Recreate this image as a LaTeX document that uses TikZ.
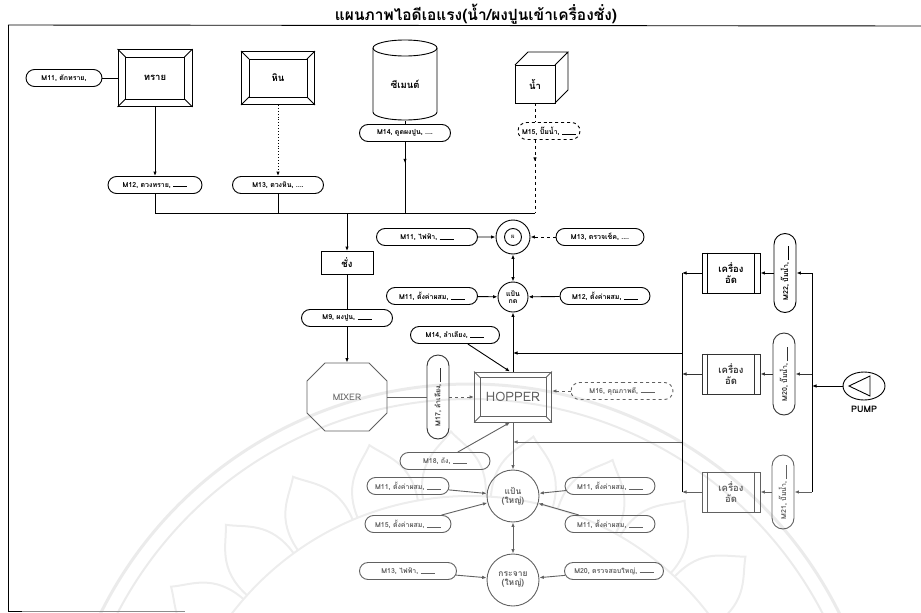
\documentclass[tikz,border=0pt]{standalone}
\usepackage{fontspec}
\newfontfamily\thai[Script=Thai]{Loma}
\usetikzlibrary{arrows.meta,shapes.misc,shapes.geometric,calc,decorations.markings}

\newcommand\lblfont{\thai\bfseries\fontsize{7}{8}\selectfont}
\newcommand\boxfont{\thai\bfseries\fontsize{9.5}{11}\selectfont}
\newcommand\blank{\rule[0pt]{14pt}{0.6pt}}
% inner frame and corner bevels of a framed box
\newcommand\bevelbox[3]{%
  \draw[#3] ($(#1.north west)+(#2,#2)$) rectangle ($(#1.south east)-(#2,#2)$);
  \draw[#3] (#1.north west) -- ++(#2,#2) (#1.north east) -- ++(-#2,#2)
            (#1.south west) -- ++(#2,-#2) (#1.south east) -- ++(-#2,-#2);}

\begin{document}
\begin{tikzpicture}[x=1pt,y=-1pt,line width=0.9pt,
  every node/.style={inner sep=1pt},
  pill/.style={draw,rounded rectangle,minimum height=17pt,minimum width=#1,font=\lblfont,inner xsep=3pt},
  pill/.default=90pt,
  vpill/.style={pill=#1,minimum height=22pt,rotate=90},
  tipA/.tip={Latex[length=4.5pt,width=3.5pt]},
  conn/.style={-tipA},
  both/.style={tipA-tipA},
  midarrow/.style={postaction={decorate},decoration={markings,mark=at position #1 with {\arrow{tipA}}}},
  bevel/.style={draw,rectangle,font=\boxfont},
  press/.style={draw,rectangle,minimum width=58pt,minimum height=40pt,font=\boxfont,align=center},
  disc/.style={draw,circle,align=center,font=\thai\bfseries\fontsize{7}{7.5}\selectfont,inner sep=0pt},
  fade/.style={draw=black!62,text=black!62},
  fadel/.style={black!62},
]
\useasboundingbox (0,0) rectangle (921,613);

% faint seal in the background
\begin{scope}
  \clip (0,0) rectangle (921,613);
  \coordinate (seal) at (470,796);
  \draw[black!8,line width=3pt] (seal) circle[radius=412pt];
  \draw[black!8,line width=2pt] (seal) circle[radius=397pt];
  \foreach \a in {28,41,...,155}{
    \draw[black!7,line width=2pt]
      ($(seal)+(\a-6:300pt)$) .. controls ($(seal)+(\a-6:340pt)$) and ($(seal)+(\a-2:350pt)$) .. ($(seal)+(\a:365pt)$)
      .. controls ($(seal)+(\a+2:350pt)$) and ($(seal)+(\a+6:340pt)$) .. ($(seal)+(\a+6:300pt)$);
  }
  \draw[black!7,line width=2pt] (seal) circle[radius=300pt];
\end{scope}

% title and frame
\node[font=\thai\bfseries\fontsize{15.5}{17}\selectfont,anchor=base,inner sep=0pt] (title) at (476,20)
  {แผนภาพไอดีเอแรง(น้ำ/ผงปูนเข้าเครื่องชั่ง)};
\draw (8,25) -- (921,26);
\draw (8,25) -- (8,611) -- (22,611);
\draw[black!45] (22,611) -- (185,611);

% raw materials
\node[bevel,minimum width=74pt,minimum height=57pt] (sand) at (155,78) {ทราย};
\bevelbox{sand}{8}{}
\node[pill=82pt] (sandside) at (64,78) {M11, ตักทราย,};
\node[bevel,minimum width=73pt,minimum height=53pt] (stone) at (278,78) {หิน};
\bevelbox{stone}{8}{}

\node[font=\boxfont,minimum width=64pt,minimum height=74pt] (cem) at (405,84) {ซีเมนต์};
\draw (373,48) -- (373,112) arc[start angle=180,end angle=360,x radius=32pt,y radius=8pt] -- (437,48);
\draw (405,48) ellipse[x radius=32pt,y radius=8pt];

\node[font=\boxfont,minimum width=40pt,minimum height=38pt] (wat) at (535,84) {น้ำ};
\draw (515,65) rectangle (555,103);
\draw (515,65) -- (528,52) -- (568,52) -- (555,65) (568,52) -- (568,90) -- (555,103);

\node[pill=97pt] (cemlab) at (405,133) {M14, ดูดผงปูน, ....};
\node[pill=68pt,dashed] (watlab) at (549,131) {M15, ปั๊มน้ำ, \blank};
\node[pill=100pt] (sandlab) at (155,185) {M12, ตวงทราย, \blank};
\node[pill=97pt] (stonelab) at (278,185) {M13, ตวงหิน, ....};
\coordinate (bus) at (535,213);

\draw (sandside.east) -- (sand.west);
\draw[conn] (sand.south) -- (sandlab.north);
\draw[conn,dotted] (stone.south) -- (stonelab.north);
\draw (cem.south) -- (cemlab.north);
\draw[midarrow=0.3] (cemlab.south) -- (cemlab.south |- bus);
\draw[dashed] (wat.south) -- (wat.south |- watlab.north);
\draw[dashed,midarrow=0.3] (wat.south |- watlab.south) -- (bus);
\draw (sandlab.south) |- (bus);
\draw (stonelab.south) -- (stonelab.south |- bus);

% weighing and mixing
\node[draw,minimum width=52pt,minimum height=23pt,font=\boxfont] (weigh) at (347,263) {ชั่ง};
\draw[conn] (weigh.north |- bus) -- (weigh.north);
\node[pill=97pt] (mixlab) at (347,318) {M9, ผงปูน, \blank};
\draw (weigh.south) -- (mixlab.north);
\node[minimum width=80pt,minimum height=68pt,font=\thai\fontsize{9}{10}\selectfont,text=black!62] (mixer) at (347,397) {MIXER};
\draw[fadel] (325,363) -- (369,363) -- (387,381) -- (387,413) -- (369,431) -- (325,431) -- (307,413) -- (307,381) -- cycle;
\draw[conn] (mixlab.south) -- (mixer.north);

\node[bevel,fade,minimum width=77pt,minimum height=50pt,font=\thai\fontsize{13}{14}\selectfont] (hopper) at (513,397) {HOPPER};
\bevelbox{hopper}{6}{fadel}
\node[vpill=90pt,black!80] (m17) at (438,397) {M17, ลำเลียง, \blank};
\draw[fadel] (mixer.east) -- (m17.north);
\draw[conn,dashed,fadel] (m17.south) -- (hopper.west);
\node[pill=108pt,dashed,fade] (m16) at (622,391) {M16, คุณภาพดี, \blank};
\draw[conn,dashed,fadel] (m16.west) -- (m16.west -| hopper.east);
\node[pill=95pt] (m14h) at (455,335) {M14, ลำเลียง, \blank};
\draw[conn] (m14h.-35) -- ([xshift=-3pt]hopper.north);

% control circles above the hopper
\node[disc,minimum size=34pt] (upc) at (513,237) {};
\node[disc,minimum size=17pt,font=\thai\fontsize{6}{6}\selectfont] (upci) at (upc) {ผ};
\node[pill=107pt] (upcl) at (427,237) {M11, ไฟฟ้า, \blank};
\node[pill=94pt] (upcr) at (600,237) {M13, ตรวจเช็ค, ....};
\draw[conn] (upcl) -- (upc);
\draw[conn,dashed] (upcr) -- (upc);

\node[disc,minimum size=30pt] (pan) at (513,297) {แป้น\\กด};
\node[pill=97pt] (panl) at (432,296) {M11, ตั้งค่าผสม, \blank};
\node[pill=96pt] (panr) at (605,296) {M12, ตั้งค่าผสม, \blank};
\draw[conn] (panl) -- (pan);
\draw[conn] (panr) -- (pan);
\draw[both] (upc) -- (pan);
\draw[conn] (hopper.north) -- (pan);

% presses fed by the pump
\coordinate (lbT) at (682,273);
\coordinate (lbB) at (682,492);
\coordinate (rbT) at (812,273);
\coordinate (rbB) at (812,492);
\draw (lbT) -- (lbB);
\draw (rbT) -- (rbB);

\node[press] (pr1) at (731,273) {เครื่อง\\อัด};
\node[press,black!80] (pr2) at (731,374) {เครื่อง\\อัด};
\node[press,fade] (pr3) at (731,492) {เครื่อง\\อัด};
\foreach \p/\c in {pr1/black,pr2/black!80,pr3/black!62}{
  \draw[\c] ([xshift=6pt]\p.north west) -- ([xshift=6pt]\p.south west);
  \draw[\c] ([xshift=-6pt]\p.north east) -- ([xshift=-6pt]\p.south east);
}
\node[vpill=85pt] (pp1) at (785,273) {M22, ปั๊มน้ำ, \blank};
\node[vpill=88pt,black!80] (pp2) at (784,374) {M20, ปั๊มน้ำ, \blank};
\node[vpill=80pt,fade] (pp3) at (783,492) {M21, ปั๊มน้ำ, \blank};
\foreach \k/\c in {1/black,2/black!80,3/black!62}{
  \draw[conn,\c] (pp\k.south -| rbT) -- (pp\k.south);
  \draw[conn,\c] (pp\k.north) -- (pp\k.north -| pr\k.east);
  \draw[conn,\c] (pr\k.west) -- (pr\k.west -| lbT);
}
\coordinate (ret1) at (682,353);
\coordinate (ret2) at (682,442);
\draw[conn] (ret1) -- (ret1 -| hopper.north);
\draw[conn,fadel] (ret2) -- (ret2 -| hopper.south);

\node[draw,ellipse,minimum width=42pt,minimum height=28pt] (pump) at (864,386) {};
\draw ($(pump)+(-15,0)$) -- ($(pump)+(6,-10)$) -- ($(pump)+(6,10)$) -- cycle;
\node[font=\thai\bfseries\fontsize{9}{10}\selectfont] (pumpt) at (864,409) {PUMP};
\draw[conn] (pump.west) -- (pump.west -| rbT);

% below the hopper
\node[pill=96pt,fade] (m18) at (445,461) {M18, ถัง, \blank};
\draw[conn,fadel] (m18.35) -- ([xshift=-3pt]hopper.south);
\node[disc,fade,minimum size=52pt,font=\thai\bfseries\fontsize{8.5}{9}\selectfont] (big) at (513,496) {แป้น\\(ใหญ่)};
\draw[conn,fadel] (hopper.south) -- (big);
\node[pill=88pt,fade] (bl1) at (408,486) {M11, ตั้งค่าผสม, \blank};
\node[pill=92pt,fade] (bl2) at (408,524) {M15, ตั้งค่าผสม, \blank};
\node[pill=96pt,fade] (br1) at (610,486) {M11, ตั้งค่าผสม, \blank};
\node[pill=96pt,fade] (br2) at (610,524) {M11, ตั้งค่าผสม, \blank};
\foreach \l in {bl1,bl2,br1,br2}{\draw[conn,fadel] (\l) -- (big);}

\node[disc,fade,minimum size=52pt,font=\thai\bfseries\fontsize{8.5}{9}\selectfont] (bot) at (513,580) {กระจาย\\(ใหญ่)};
\draw[both,fadel] (big) -- (bot);
\node[pill=103pt,fade] (botl) at (408,571) {M13, ไฟฟ้า, \blank};
\node[pill=105pt,fade] (botr) at (614,571) {M20, ตรวจสอบใหญ่, \blank};
\draw[conn,fadel] (botl) -- (bot);
\draw[conn,fadel] (botr) -- (bot);
\end{tikzpicture}
\end{document}
